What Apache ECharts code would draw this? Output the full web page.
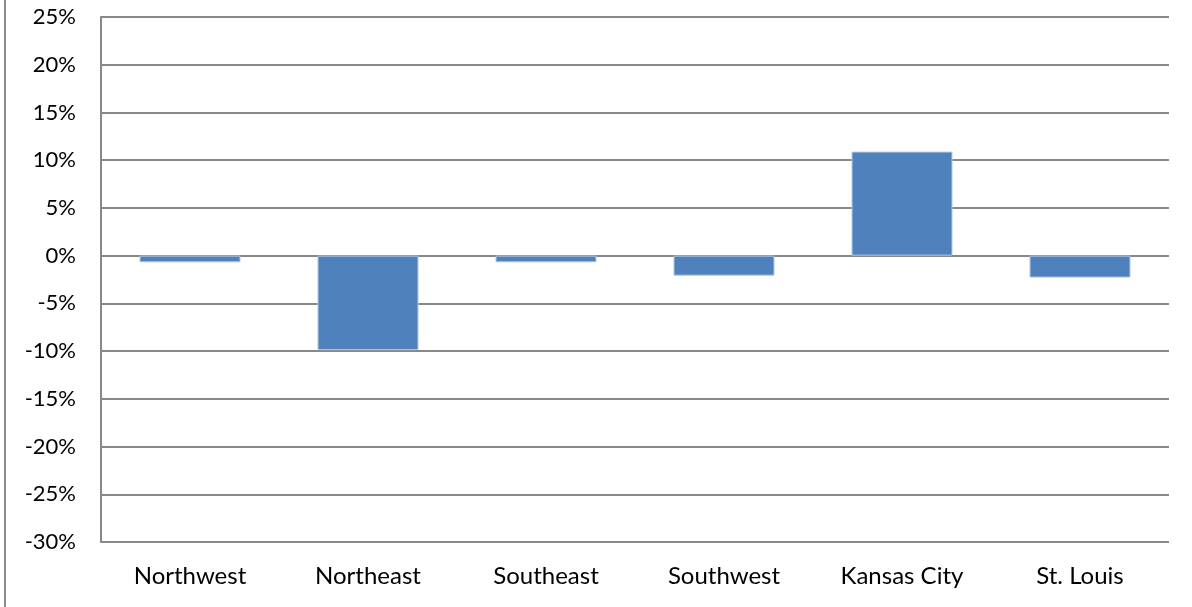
<!DOCTYPE html>
<html><head><meta charset="utf-8">
<script src="https://cdn.jsdelivr.net/npm/echarts@6/dist/echarts.min.js"></script>
<style>html,body{margin:0;padding:0;background:#fff}#c{width:1192px;height:607px}</style>
</head><body><div id="c"></div>
<script>
const categories = ['Northwest','Northeast','Southeast','Southwest','Kansas City','St. Louis'];
const values = [-0.7, -9.9, -0.7, -2.1, 10.9, -2.3];
const yMin = -30, yMax = 25, yStep = 5;
const chart = echarts.init(document.getElementById('c'));
const font = 'Lato';
chart.setOption({
  animation:false,
  graphic:[{type:'line',shape:{x1:5,y1:0,x2:5,y2:607},style:{stroke:'#8a8a8a',lineWidth:2}}],
  grid:{left:101,right:23,top:17,bottom:65},
  xAxis:{type:'category',data:categories,
    axisLine:{show:false},axisTick:{show:false},
    axisLabel:{color:'#000',fontFamily:font,fontSize:24,margin:22}},
  yAxis:{type:'value',min:yMin,max:yMax,interval:yStep,
    axisLine:{show:true,lineStyle:{color:'#888',width:2}},axisTick:{show:false},
    splitLine:{lineStyle:{color:'#888',width:2}},
    axisLabel:{color:'#000',fontFamily:font,fontSize:22,margin:25,formatter:v=>v+'%'}},
  series:[{type:'bar',data:values,barWidth:101,
    itemStyle:{color:'#4F81BD',borderColor:'#b3c8e4',borderWidth:1}}]
});
</script></body></html>
